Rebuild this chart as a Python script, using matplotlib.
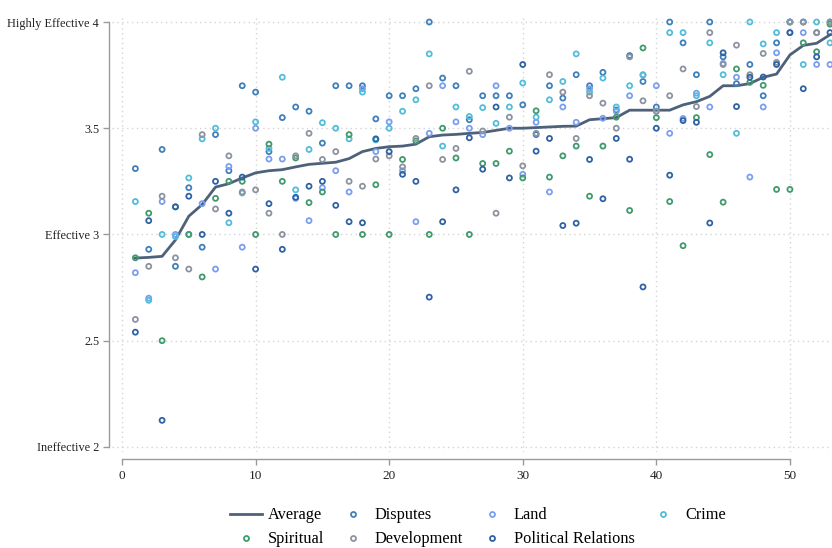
import matplotlib
matplotlib.use("Agg")
import matplotlib.pyplot as plt
from matplotlib.lines import Line2D

plt.rcParams['font.family'] = ['Liberation Serif', 'DejaVu Serif']

x = list(range(1, 54))

average = [2.889, 2.892, 2.897, 2.974, 3.086, 3.141, 3.223, 3.239, 3.266, 3.29,
           3.30, 3.305, 3.318, 3.33, 3.335, 3.34, 3.357, 3.39, 3.405, 3.413,
           3.416, 3.425, 3.46, 3.468, 3.471, 3.476, 3.48, 3.49, 3.50, 3.50,
           3.503, 3.506, 3.509, 3.51, 3.54, 3.545, 3.55, 3.585, 3.585, 3.585,
           3.585, 3.61, 3.625, 3.65, 3.70, 3.70, 3.71, 3.74, 3.755, 3.845,
           3.89, 3.90, 3.94]

disputes = [3.31, 2.93, 3.40, 2.85, 3.22, 2.94, 3.47, 3.30, 3.70, 3.67,
            3.39, 3.55, 3.60, 3.58, 3.43, 3.70, 3.70, 3.70, 3.544, 3.653,
            3.653, 3.686, 4.00, 3.736, 3.70, 3.54, 3.653, 3.653, 3.653, 3.61,
            3.47, 3.70, 3.642, 3.752, 3.70, 3.763, 3.586, 3.842, 3.72, 3.60,
            4.00, 3.902, 3.752, 4.00, 3.836, 3.71, 3.80, 3.653, 3.902, 4.00,
            4.00, 3.95, 4.00]

land = [2.82, 2.70, 3.155, 3.00, 3.00, 3.145, 2.837, 3.32, 2.94, 3.50,
        3.355, 3.355, 3.17, 3.065, 3.22, 3.30, 3.20, 3.686, 3.39, 3.53,
        3.30, 3.06, 3.476, 3.70, 3.53, 3.50, 3.47, 3.70, 3.50, 3.283,
        3.528, 3.20, 3.60, 3.528, 3.686, 3.547, 3.58, 3.653, 3.75, 3.70,
        3.476, 3.546, 3.665, 3.60, 3.805, 3.74, 3.27, 3.60, 3.855, 3.95,
        3.95, 3.80, 3.80]

crime = [3.155, 2.69, 3.00, 2.99, 3.266, 3.45, 3.50, 3.055, 3.195, 3.53,
         3.405, 3.74, 3.21, 3.40, 3.526, 3.50, 3.45, 3.67, 3.445, 3.50,
         3.58, 3.634, 3.85, 3.416, 3.60, 3.555, 3.597, 3.523, 3.60, 3.713,
         3.552, 3.634, 3.72, 3.85, 3.67, 3.736, 3.60, 3.70, 3.752, 3.58,
         3.95, 3.95, 3.653, 3.902, 3.752, 3.476, 4.00, 3.897, 3.95, 4.00,
         3.80, 4.00, 3.902]

spiritual = [2.89, 3.10, 2.50, 3.13, 3.00, 2.80, 3.17, 3.25, 3.25, 3.00,
             3.425, 3.25, 3.36, 3.15, 3.20, 3.00, 3.47, 3.00, 3.234, 3.00,
             3.353, 3.44, 3.00, 3.50, 3.36, 3.00, 3.334, 3.334, 3.392, 3.266,
             3.582, 3.27, 3.37, 3.416, 3.18, 3.416, 3.552, 3.113, 3.878, 3.55,
             3.155, 2.947, 3.55, 3.376, 3.152, 3.779, 3.716, 3.702, 3.212, 3.212,
             3.902, 3.86, 3.99]

development = [2.60, 2.85, 3.18, 2.89, 2.837, 3.47, 3.12, 3.37, 3.20, 3.21,
               3.10, 3.00, 3.37, 3.476, 3.353, 3.39, 3.25, 3.227, 3.355, 3.37,
               3.318, 3.452, 3.70, 3.353, 3.405, 3.768, 3.487, 3.10, 3.552, 3.323,
               3.476, 3.752, 3.67, 3.452, 3.653, 3.618, 3.50, 3.836, 3.629, 3.58,
               3.653, 3.779, 3.602, 3.95, 3.80, 3.891, 3.752, 3.852, 3.81, 4.00,
               4.00, 3.95, 4.00]

political = [2.54, 3.065, 2.125, 3.13, 3.18, 3.00, 3.25, 3.10, 3.27, 2.837,
             3.145, 2.93, 3.175, 3.227, 3.25, 3.137, 3.06, 3.055, 3.45, 3.39,
             3.283, 3.25, 2.705, 3.06, 3.21, 3.455, 3.307, 3.60, 3.266, 3.80,
             3.392, 3.452, 3.042, 3.053, 3.353, 3.168, 3.452, 3.354, 2.753, 3.50,
             3.279, 3.536, 3.528, 3.054, 3.855, 3.602, 3.74, 3.741, 3.80, 3.95,
             3.686, 3.836, 3.95]

series = [
    ("Disputes", disputes, "#3f7fba"),
    ("Land", land, "#7a9ef0"),
    ("Crime", crime, "#52bcdb"),
    ("Spiritual", spiritual, "#3f9a6c"),
    ("Development", development, "#8c93a0"),
    ("Political Relations", political, "#2f62a3"),
]

yticks = [2, 2.5, 3, 3.5, 4]
yticklabels = ["Ineffective 2", "2.5", "Effective 3", "3.5", "Highly Effective 4"]
xticks = [0, 10, 20, 30, 40, 50]

fig = plt.figure(figsize=(8.32, 5.48), dpi=100)
ax = fig.add_axes([112/832, 1 - 452/548, 1 - 112/832, 437/548])

line_color = "#4d627a"
ax.plot(x, average, color=line_color, lw=2.0, zorder=3)

handles = {}
for name, vals, col in series:
    ax.scatter(x, vals, s=13, facecolors="none", edgecolors=col, linewidths=1.3, zorder=4)
    handles[name] = Line2D([], [], marker="o", ls="none", markersize=3.6,
                           markerfacecolor="none", markeredgecolor=col,
                           markeredgewidth=1.3)

ax.set_xlim(-0.75, 53.15)
ax.set_ylim(1.976, 4.033)

ax.set_yticks(yticks)
ax.set_yticklabels(yticklabels)
ax.set_xticks(xticks)

ax.grid(True, color="#d4d4d4", linestyle=(0, (1, 2.5)), linewidth=1.0)
ax.set_axisbelow(True)

for s in ["top", "right"]:
    ax.spines[s].set_visible(False)
ax.spines["left"].set_position(("outward", 2.5))
ax.spines["left"].set_bounds(2, 4)
ax.spines["bottom"].set_position(("outward", 5))
ax.spines["bottom"].set_bounds(0, 50)
for s in ["left", "bottom"]:
    ax.spines[s].set_color("#9a9a9a")
    ax.spines[s].set_linewidth(1.0)

ax.tick_params(axis="both", colors="#9a9a9a", length=4.5, width=1.0,
               labelcolor="#222222")
ax.tick_params(axis="y", labelsize=8.8, pad=2.2)
ax.tick_params(axis="x", labelsize=9.5)

avg_handle = Line2D([], [], color=line_color, lw=2.0)
order = [("Average", avg_handle), ("Spiritual", handles["Spiritual"]),
         ("Disputes", handles["Disputes"]), ("Development", handles["Development"]),
         ("Land", handles["Land"]), ("Political Relations", handles["Political Relations"]),
         ("Crime", handles["Crime"])]
leg = ax.legend([h for _, h in order], [n for n, _ in order], ncol=4,
                loc="center", bbox_to_anchor=(0.508, -0.1725), frameon=False,
                fontsize=11.8, handlelength=1.95, columnspacing=0.78,
                handletextpad=0.36, labelspacing=0.48, borderpad=0.2)

fig.savefig("out.png", dpi=100)
